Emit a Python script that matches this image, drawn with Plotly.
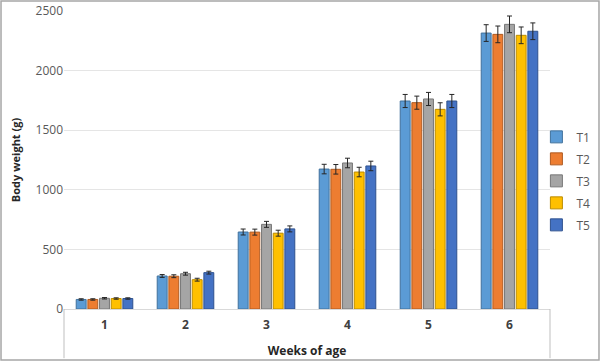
import plotly.graph_objects as go

weeks = ["1", "2", "3", "4", "5", "6"]
series_names = ["T1", "T2", "T3", "T4", "T5"]
T1 = [80, 277, 646, 1174, 1745, 2315]
T2 = [80, 275, 645, 1172, 1731, 2304]
T3 = [90, 296, 710, 1225, 1762, 2388]
T4 = [88, 246, 636, 1149, 1675, 2296]
T5 = [88, 305, 672, 1200, 1745, 2330]
err = [6, 12, 25, 40, 55, 70]

values = [T1, T2, T3, T4, T5]
fills = ["#5B9BD5", "#ED7D31", "#A5A5A5", "#FFC000", "#4472C4"]
lines = ["#41719C", "#AE5A21", "#787878", "#BC8C00", "#2F528F"]

fig = go.Figure()
for name, vals, fc, lc in zip(series_names, values, fills, lines):
    fig.add_trace(go.Bar(
        x=weeks, y=vals, name=name, legendgroup=name,
        marker=dict(color=fc, line=dict(color=lc, width=1)),
        error_y=dict(type="data", array=err, color="#262626", thickness=1, width=2.5),
    ))

fig.update_layout(
    width=600, height=361,
    margin=dict(l=64, r=50, t=11, b=52, autoexpand=False),
    paper_bgcolor="white", plot_bgcolor="white",
    barmode="group", bargap=0.28, bargroupgap=0.15,
    font=dict(family="Open Sans, Calibri, sans-serif", size=12, color="#595959"),
    showlegend=True,
    legend=dict(x=0.972, y=0.43, xanchor="left", yanchor="middle",
                bgcolor="rgba(0,0,0,0)", traceorder="grouped",
                font=dict(size=12, color="#595959"), tracegroupgap=3,
                itemwidth=30),
    xaxis=dict(showgrid=False, showline=True, linecolor="#D9D9D9", linewidth=1,
               ticks="", ticklabelstandoff=5,
               tickfont=dict(size=12, color="#404040", weight="bold"),
               title=dict(text="Weeks of age", font=dict(size=12, color="#262626", weight="bold"), standoff=14)),
    yaxis=dict(range=[0, 2500], dtick=500, showgrid=True, gridcolor="#E5E5E5",
               zeroline=False, showline=False, ticks="",
               tickfont=dict(size=12, color="#595959"),
               title=dict(text="Body weight (g)", font=dict(size=11, color="#262626", weight="bold"), standoff=12)),
    shapes=[
        dict(type="line", xref="paper", yref="paper", x0=0, x1=0, y0=0, y1=-0.165,
             line=dict(color="#BFBFBF", width=1)),
        dict(type="line", xref="paper", yref="paper", x0=1, x1=1, y0=0, y1=-0.165,
             line=dict(color="#BFBFBF", width=1)),
        dict(type="rect", xref="paper", yref="paper", x0=-0.1296, x1=1.1008, y0=-0.171, y1=1.0336,
             line=dict(color="#A6A6A6", width=1.5)),
    ],
)

fig.write_html("out.html", config={"displayModeBar": False},
               post_script="document.body.style.margin='0';")
